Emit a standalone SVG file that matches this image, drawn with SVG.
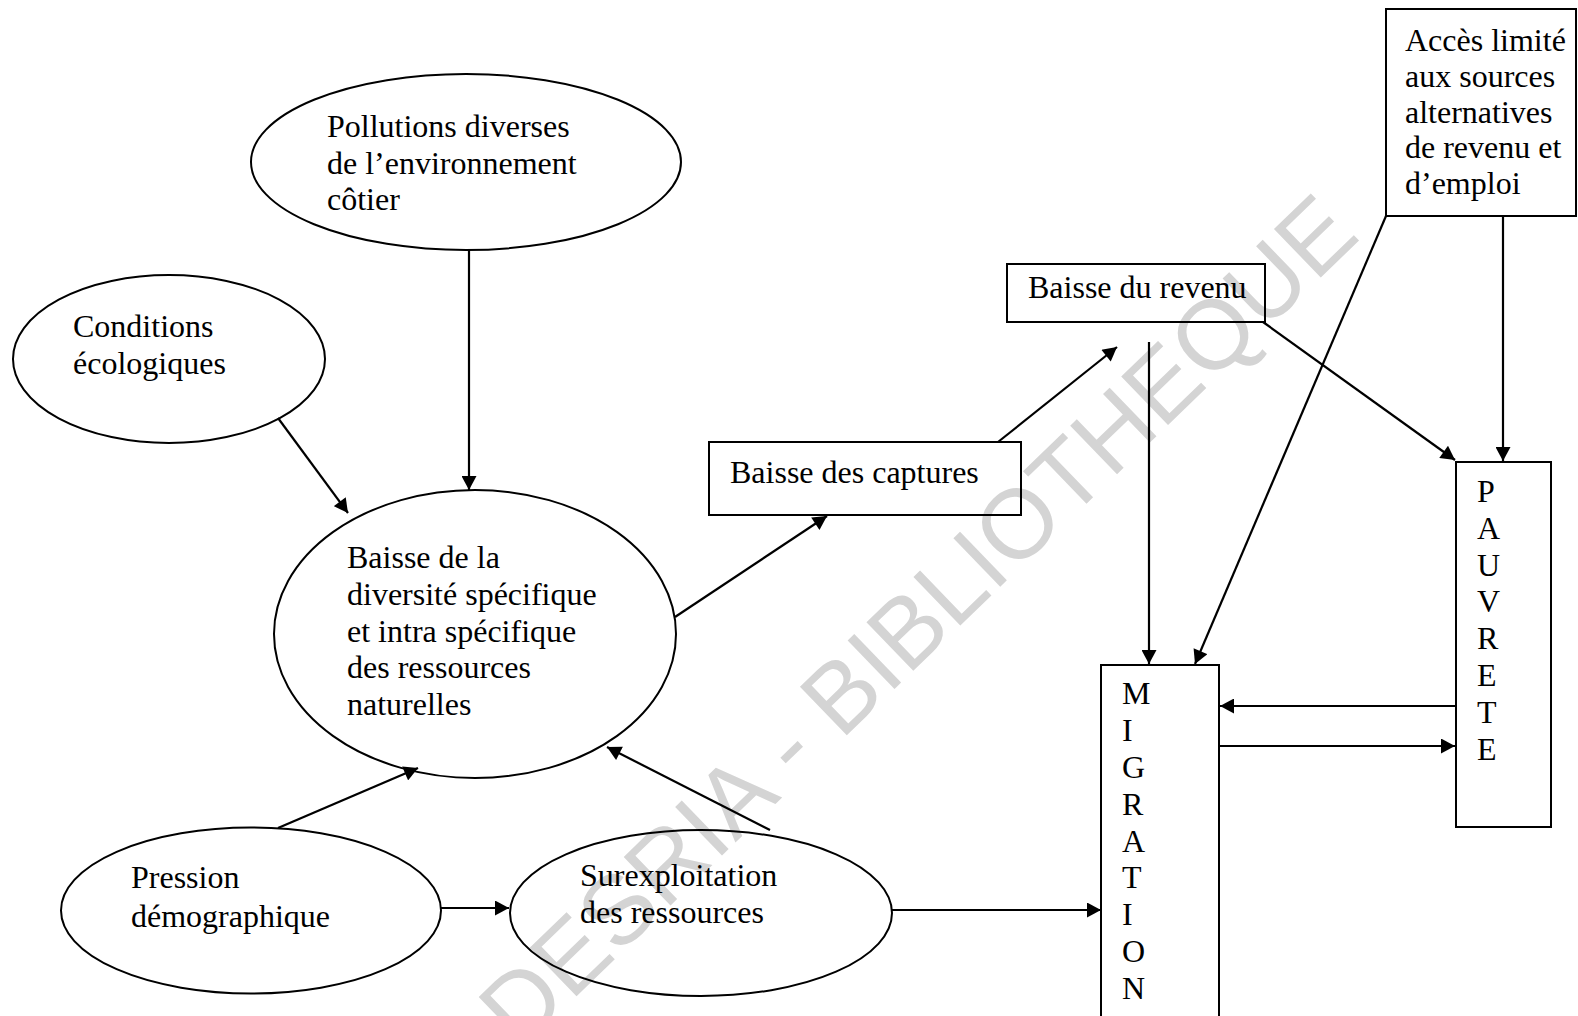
<svg xmlns="http://www.w3.org/2000/svg" width="1578" height="1016" viewBox="0 0 1578 1016">
  <defs>
    <marker id="arr" markerUnits="userSpaceOnUse" markerWidth="15" markerHeight="15" viewBox="0 0 14 15" refX="14" refY="7.5" orient="auto">
      <path d="M0,0 L14,7.5 L0,15 z" fill="#000"/>
    </marker>
    <style>
      .shape { fill: none; stroke: #000; stroke-width: 2; }
      .lbl { font-family: "Liberation Serif", "Times New Roman", serif; font-size: 32px; fill: #000; }
      .conn line { stroke: #000; stroke-width: 2.2; marker-end: url(#arr); }
      .wm { font-family: "Liberation Sans", Arial, sans-serif; font-size: 98px; fill: #d4d4d4; }
    </style>
  </defs>
  <rect x="0" y="0" width="1578" height="1016" fill="#fff"/>

  <text class="wm" x="0" y="0" transform="translate(414,1153) rotate(-44)">CODESRIA - BIBLIOTHEQUE</text>

  <g id="node-pollutions">
    <ellipse class="shape" cx="466" cy="162" rx="215" ry="88"/>
    <text class="lbl"><tspan x="327" y="137">Pollutions diverses</tspan><tspan x="327" y="174">de l’environnement</tspan><tspan x="327" y="210">côtier</tspan></text>
  </g>

  <g id="node-conditions">
    <ellipse class="shape" cx="169" cy="359" rx="156" ry="84"/>
    <text class="lbl"><tspan x="73" y="337">Conditions</tspan><tspan x="73" y="374">écologiques</tspan></text>
  </g>

  <g id="node-baisse-diversite">
    <ellipse class="shape" cx="475" cy="634" rx="201" ry="144"/>
    <text class="lbl"><tspan x="347" y="568">Baisse de la</tspan><tspan x="347" y="605">diversité spécifique</tspan><tspan x="347" y="641.5">et intra spécifique</tspan><tspan x="347" y="678">des ressources</tspan><tspan x="347" y="715">naturelles</tspan></text>
  </g>

  <g id="node-pression">
    <ellipse class="shape" cx="251" cy="910.5" rx="190" ry="83"/>
    <text class="lbl"><tspan x="131" y="888">Pression</tspan><tspan x="131" y="926.5">démographique</tspan></text>
  </g>

  <g id="node-surexploitation">
    <ellipse class="shape" cx="701" cy="913" rx="191" ry="83"/>
    <text class="lbl"><tspan x="580" y="886">Surexploitation</tspan><tspan x="580" y="923">des ressources</tspan></text>
  </g>

  <g id="node-captures">
    <rect class="shape" x="709" y="442" width="312" height="73"/>
    <text class="lbl" x="730" y="483">Baisse des captures</text>
  </g>

  <g id="node-revenu">
    <rect class="shape" x="1007" y="264" width="258" height="58"/>
    <text class="lbl" x="1028" y="298">Baisse du revenu</text>
  </g>

  <g id="node-acces">
    <rect class="shape" x="1386" y="9" width="190" height="207"/>
    <text class="lbl"><tspan x="1405" y="51">Accès limité</tspan><tspan x="1405" y="87">aux sources</tspan><tspan x="1405" y="123">alternatives</tspan><tspan x="1405" y="158">de revenu et</tspan><tspan x="1405" y="194">d’emploi</tspan></text>
  </g>

  <g id="node-migration">
    <rect class="shape" x="1101" y="665" width="118" height="380"/>
    <text class="lbl"><tspan x="1122" y="704">M</tspan><tspan x="1122" y="741">I</tspan><tspan x="1122" y="778">G</tspan><tspan x="1122" y="815">R</tspan><tspan x="1122" y="852">A</tspan><tspan x="1122" y="888">T</tspan><tspan x="1122" y="925">I</tspan><tspan x="1122" y="962">O</tspan><tspan x="1122" y="999">N</tspan></text>
  </g>

  <g id="node-pauvrete">
    <rect class="shape" x="1456" y="462" width="95" height="365"/>
    <text class="lbl"><tspan x="1477" y="502">P</tspan><tspan x="1477" y="538.5">A</tspan><tspan x="1477" y="575.5">U</tspan><tspan x="1477" y="612">V</tspan><tspan x="1477" y="649">R</tspan><tspan x="1477" y="686">E</tspan><tspan x="1477" y="722.5">T</tspan><tspan x="1477" y="759.5">E</tspan></text>
  </g>

  <g id="connectors" class="conn">
    <line x1="469" y1="250" x2="469" y2="490"/>
    <line x1="278" y1="418" x2="348" y2="513"/>
    <line x1="278" y1="828" x2="418" y2="768"/>
    <line x1="770" y1="830" x2="607" y2="747"/>
    <line x1="441" y1="908" x2="509" y2="908"/>
    <line x1="891" y1="910" x2="1101" y2="910"/>
    <line x1="675" y1="617" x2="827" y2="516"/>
    <line x1="998" y1="442" x2="1117" y2="347"/>
    <line x1="1149" y1="342" x2="1149" y2="664"/>
    <line x1="1263" y1="322" x2="1455" y2="460"/>
    <line x1="1503" y1="216" x2="1503" y2="461"/>
    <line x1="1386" y1="216" x2="1195" y2="664"/>
    <line x1="1456" y1="706" x2="1220" y2="706"/>
    <line x1="1219" y1="746" x2="1455" y2="746"/>
  </g>
</svg>
